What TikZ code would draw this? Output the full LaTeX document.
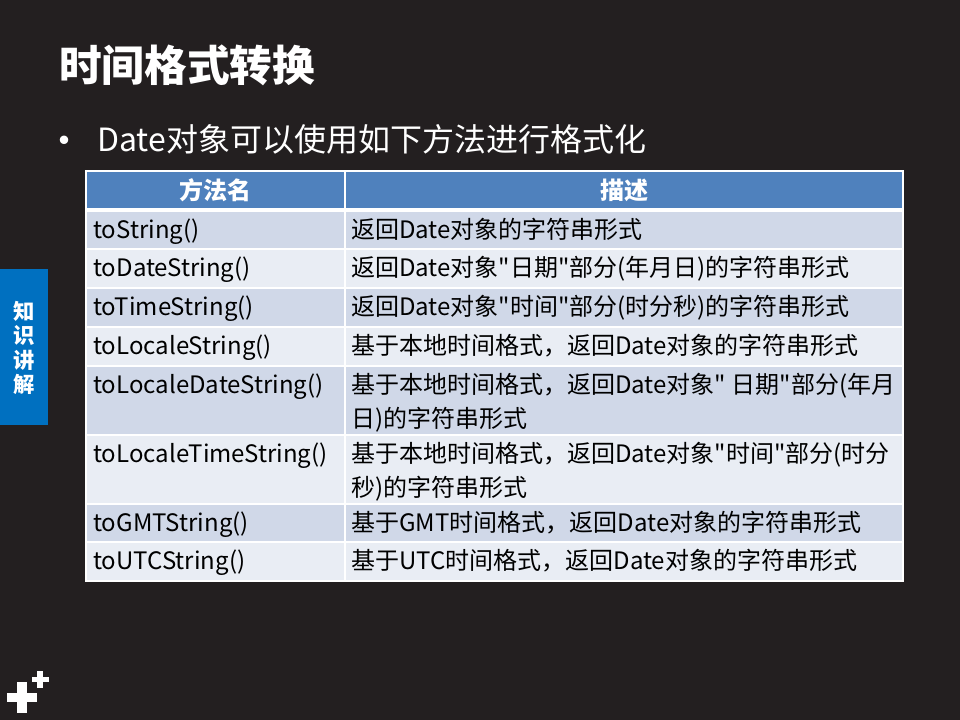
\documentclass[tikz,border=0pt]{standalone}
\usepackage{fontspec}
\setmainfont{Noto Sans CJK SC}
\newfontfamily\cjk{Noto Sans CJK SC}
\definecolor{bg}{HTML}{231F20}
\definecolor{hdr}{HTML}{4F81BD}
\definecolor{rowA}{HTML}{D0D8E8}
\definecolor{rowB}{HTML}{E9EDF4}
\definecolor{tabblue}{HTML}{0070C0}
\begin{document}
\begin{tikzpicture}[x=0.75pt,y=-0.75pt,
  celltxt/.style={anchor=base west, inner sep=0pt, text=black, align=left,
    font=\cjk\fontsize{18}{25.5}\selectfont},
  hdrtxt/.style={anchor=center, inner sep=0pt, text=white,
    font=\cjk\fontsize{18}{22}\selectfont\bfseries},
  sep/.style={draw=white, line width=1.2pt}]
\fill[bg] (0,0) rectangle (960,720);
\useasboundingbox (0,0) rectangle (960,720);
% title
\node[anchor=west, inner sep=0pt, text=white, font=\cjk\fontsize{32}{38}\selectfont\bfseries] (title) at (59,65) {时间格式转换};
% bullet line
\node[inner sep=0pt, text=white, font=\cjk\fontsize{30}{34}\selectfont] (dot) at (64,146) {•};
\node[anchor=base west, inner sep=0pt, text=white, font=\cjk\fontsize{24}{28}\selectfont] (sub) at (97,152) {Date对象可以使用如下方法进行格式化};
% side tab
\fill[tabblue] (0,269) rectangle (48,425);
\node[align=center, inner sep=0pt, text=white, font=\cjk\fontsize{16}{18.4}\selectfont\bfseries] (tab) at (24,348) {知\\识\\讲\\解};
% plus signs
\fill[white] (7,693) rectangle (37,702);
\fill[white] (17,682) rectangle (27,713);
\fill[white] (32,677) rectangle (49,682);
\fill[white] (37,671) rectangle (43,688);
% table backgrounds
\fill[hdr] (86,171) rectangle (903,210);
\fill[rowA] (86,210) rectangle (903,249);
\fill[rowB] (86,249) rectangle (903,288);
\fill[rowA] (86,288) rectangle (903,327);
\fill[rowB] (86,327) rectangle (903,366);
\fill[rowA] (86,366) rectangle (903,435);
\fill[rowB] (86,435) rectangle (903,504);
\fill[rowA] (86,504) rectangle (903,542);
\fill[rowB] (86,542) rectangle (903,581);
% grid lines
\draw[draw=white, line width=2.4pt] (86,210) -- (903,210);
\foreach \yy in {249,288,327,366,435,504,542} \draw[sep] (86,\yy) -- (903,\yy);
\draw[sep] (345,171) -- (345,581);
\draw[draw=white, line width=0.8pt] (86,171) rectangle (903,581);
% header
\node[hdrtxt] (h1) at (215.5,190) {方法名};
\node[hdrtxt] (h2) at (624,190) {描述};
% rows
\node[celltxt] (m1) at (93,238.5) {toString()};
\node[celltxt] (d1) at (351,238.5) {返回Date对象的字符串形式};
\node[celltxt] (m2) at (93,276.5) {toDateString()};
\node[celltxt] (d2) at (351,276.5) {返回Date对象"日期"部分(年月日)的字符串形式};
\node[celltxt] (m3) at (93,315.5) {toTimeString()};
\node[celltxt] (d3) at (351,315.5) {返回Date对象"时间"部分(时分秒)的字符串形式};
\node[celltxt] (m4) at (93,354.5) {toLocaleString()};
\node[celltxt] (d4) at (351,354.5) {基于本地时间格式，返回Date对象的字符串形式};
\node[celltxt] (m5) at (93,393.5) {toLocaleDateString()};
\node[celltxt] (d5) at (351,427.5) {基于本地时间格式，返回Date对象" 日期"部分(年月\\日)的字符串形式};
\node[celltxt] (m6) at (93,462.5) {toLocaleTimeString()};
\node[celltxt] (d6) at (351,496.5) {基于本地时间格式，返回Date对象"时间"部分(时分\\秒)的字符串形式};
\node[celltxt] (m7) at (93,531.5) {toGMTString()};
\node[celltxt] (d7) at (351,531.5) {基于GMT时间格式，返回Date对象的字符串形式};
\node[celltxt] (m8) at (93,569.5) {toUTCString()};
\node[celltxt] (d8) at (351,569.5) {基于UTC时间格式，返回Date对象的字符串形式};
\end{tikzpicture}
\end{document}
